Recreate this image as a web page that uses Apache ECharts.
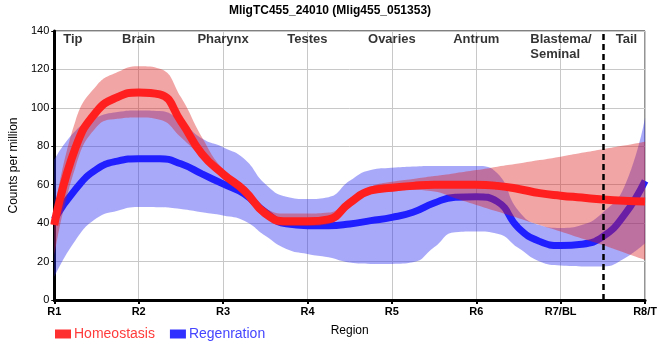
<!DOCTYPE html>
<html>
<head>
<meta charset="utf-8">
<script src="https://cdn.jsdelivr.net/npm/echarts@6/dist/echarts.min.js"></script>
<style>html,body{margin:0;padding:0;background:#fff;}#c{width:660px;height:360px;}</style>
</head>
<body>
<div id="c"></div>
<script>
// ---- data ----
const titleText = 'MligTC455_24010 (Mlig455_051353)';
const tickLabels = ['R1', 'R2', 'R3', 'R4', 'R5', 'R6', 'R7/BL', 'R8/T'];
const regionNames = ['Tip', 'Brain', 'Pharynx', 'Testes', 'Ovaries', 'Antrum', 'Blastema/\nSeminal', 'Tail'];
const regionLabelX = [0.22, 1, 2, 3, 4, 5, 5.64, 6.78];
const dividerX = 6.5;
const xPos = [0, 0.25, 0.5, 0.75, 1, 1.25, 1.5, 1.75, 2, 2.25, 2.5, 2.75, 3, 3.25, 3.5, 3.75, 4, 4.25, 4.5, 4.75, 5, 5.25, 5.5, 5.75, 6, 6.25, 6.5, 6.75, 7];
const homeoMean = [39, 79, 98, 105.6, 108, 107, 93, 76, 65.6, 57, 45, 41, 41, 42, 50.5, 57, 58.4, 59.4, 60, 60, 60, 59.4, 57.8, 55.6, 54.3, 53.3, 52.3, 51.6, 51.2];
const homeoUpper = [45, 93, 111.5, 118.6, 121.7, 120.4, 105.6, 84.7, 68, 59.5, 48, 45, 45, 45.5, 53, 59, 61.5, 63, 64.5, 66, 67.6, 69.4, 71, 72.8, 74.6, 76.6, 78.5, 80.4, 82.4];
const homeoLower = [23, 69, 90, 94.3, 95, 93.8, 84.7, 74, 63, 54.5, 42.5, 38.5, 38.5, 39.5, 48, 55.5, 56.5, 57.3, 56.5, 53, 49.5, 46, 42.5, 39, 35.6, 32, 28.6, 24.7, 20.8];
const regenMean = [42, 57.5, 68, 72.3, 73.5, 73.5, 70.9, 65.6, 60.4, 55.2, 45.7, 39.6, 38.7, 38.7, 39.6, 41.3, 43, 45.7, 50.5, 53.5, 53.8, 51.2, 37.5, 30.5, 28.3, 29, 33, 44, 62];
const regenUpper = [73, 88, 95, 97.8, 98.6, 98.3, 93, 84, 79.5, 73.5, 60.4, 53.8, 52.6, 53.5, 62, 67.7, 68.8, 69.5, 69.8, 69.8, 69.8, 66, 46.5, 39, 37.5, 39, 45.5, 58.5, 95];
const regenLower = [12, 31, 42.5, 46.5, 48.4, 48.3, 47.4, 45.7, 44, 41.3, 33.5, 26.6, 24, 22.2, 19.5, 18.8, 18.8, 19.6, 27.4, 35.3, 35.6, 34.5, 27, 20, 17.9, 17.5, 17.5, 21.5, 29.5];

// ---- build ----
const cats = xPos.map(String);
const diff = (u, l) => u.map((v, i) => +(v - l[i]).toFixed(2));
const RED = '#ff1f1f', BLUE = '#1f1fff';
const STEP = Math.round(1 / (xPos[1] - xPos[0]));

function band(name, stack, lower, upper, fill, z) {
  return [
    { name: name + '_lo', type: 'line', stack: stack, data: lower, smooth: true, showSymbol: false,
      lineStyle: { opacity: 0 }, silent: true, z: z },
    { name: name + '_band', type: 'line', stack: stack, data: diff(upper, lower), smooth: true, showSymbol: false,
      lineStyle: { opacity: 0 }, areaStyle: { color: fill, opacity: 1 }, silent: true, z: z }
  ];
}

const chart = echarts.init(document.getElementById('c'), null, { renderer: 'canvas' });
const font = 'Liberation Sans, Arial, sans-serif';
chart.setOption({
  animation: false,
  textStyle: { fontFamily: font },
  title: { text: titleText, left: 'center', top: 0, textStyle: { fontSize: 12, fontWeight: 'bold', color: '#000', fontFamily: font } },
  grid: { left: 50, right: 10, top: 31, bottom: 60, show: true, borderColor: '#000', borderWidth: 1, backgroundColor: 'transparent' },
  legend: {
    left: 50, top: 322, itemWidth: 16, itemHeight: 9, itemGap: 15,
    icon: 'rect',
    data: [
      { name: 'Homeostasis', textStyle: { color: '#ff3b3b' } },
      { name: 'Regenration', textStyle: { color: '#4545ff' } }
    ],
    textStyle: { fontSize: 14, fontFamily: font, padding: [0, 0, 0, -2] }
  },
  xAxis: [{
    type: 'category', data: cats, boundaryGap: false,
    name: 'Region', nameLocation: 'middle', nameGap: 25,
    nameTextStyle: { fontSize: 12, color: '#000' },
    axisLine: { lineStyle: { color: '#000', width: 3 } },
    axisTick: { show: true, interval: STEP - 1, length: 4, lineStyle: { color: '#000', width: 2 } },
    axisLabel: { interval: STEP - 1, formatter: (v, i) => tickLabels[i / STEP] || '', fontSize: 11, fontWeight: 'bold', color: '#000', margin: 6 },
    splitLine: { show: true, interval: STEP - 1, lineStyle: { color: '#c8c8c8', width: 1 } }
  }, {
    type: 'value', min: 0, max: 7, show: false
  }],
  yAxis: {
    type: 'value', min: 0, max: 140, interval: 20,
    name: 'Counts per million', nameLocation: 'middle', nameGap: 25,
    nameTextStyle: { fontSize: 12, color: '#000' },
    axisLine: { show: true, lineStyle: { color: '#000', width: 3 } },
    axisTick: { show: true, length: 3, lineStyle: { color: '#000', width: 1 } },
    axisLabel: { fontSize: 11, color: '#000', margin: 5 },
    splitLine: { show: true, lineStyle: { color: '#c8c8c8', width: 1 } }
  },
  series: [
    ...band('Regenration', 'rb', regenLower, regenUpper, 'rgba(40,40,240,0.4)', 1),
    { name: 'Regenration', type: 'line', data: regenMean, smooth: true, showSymbol: false,
      lineStyle: { color: BLUE, width: 7 }, itemStyle: { color: '#3030ff' }, z: 2 },
    ...band('Homeostasis', 'hb', homeoLower, homeoUpper, 'rgba(220,30,30,0.4)', 3),
    { name: 'Homeostasis', type: 'line', data: homeoMean, smooth: true, showSymbol: false,
      lineStyle: { color: RED, width: 8 }, itemStyle: { color: '#ff3030' }, z: 4 },
    { name: 'regions', type: 'scatter', xAxisIndex: 1, symbolSize: 0, silent: true, z: 6,
      data: regionNames.map((n, i) => {
        const two = n.indexOf('\n') >= 0;
        return { name: n, value: [regionLabelX[i], two ? 131.7 : 135.6],
          label: two ? { align: 'left' } : {} };
      }),
      label: { show: true, position: 'inside', formatter: p => p.name, fontSize: 13, fontWeight: 'bold', color: '#000', lineHeight: 15, fontFamily: font },
      markLine: { silent: true, symbol: 'none', label: { show: false },
        lineStyle: { color: '#000', type: [6, 4], width: 2.5 },
        data: [{ xAxis: dividerX }] } }
  ]
});
</script>
</body>
</html>
